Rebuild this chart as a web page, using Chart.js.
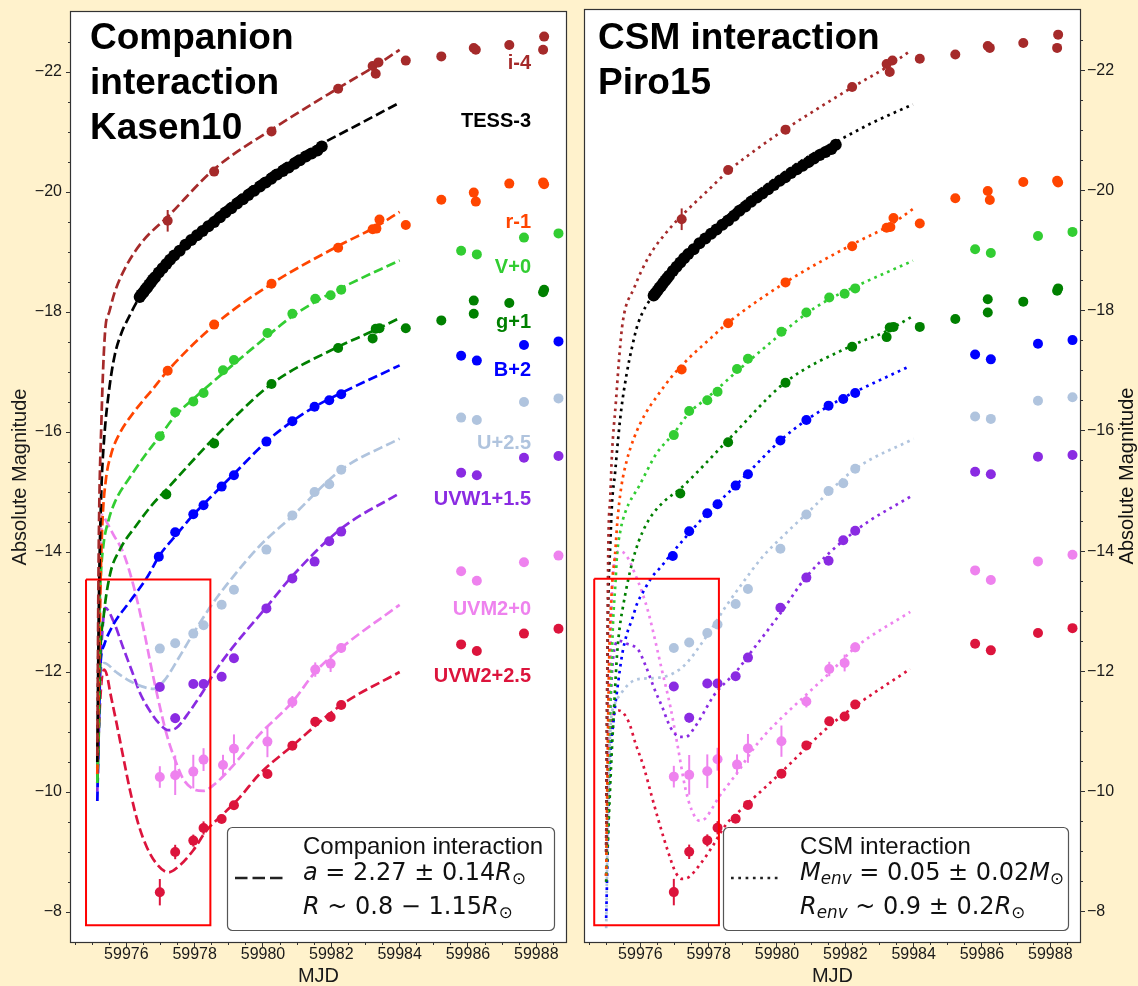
<!DOCTYPE html>
<html>
<head>
<meta charset="utf-8">
<script src="https://cdn.jsdelivr.net/npm/chart.js@4.4.1/dist/chart.umd.min.js"></script>
<style>
  html, body { margin: 0; padding: 0; background: #FFF2CC; }
  #wrap { position: relative; width: 1138px; height: 986px; overflow: hidden; }
  #cl { position: absolute; left: 0; top: 0; }
  #cr { position: absolute; left: 575px; top: 0; }
</style>
</head>
<body>
<div id="wrap">
  <canvas id="cl" width="576" height="986"></canvas>
  <canvas id="cr" width="563" height="986"></canvas>
</div>
<script>
const FONT = "'Liberation Sans', Arial, Helvetica, sans-serif";
const MATH = "'DejaVu Sans', sans-serif";

// ---------- axes ----------
const mjdRange = [59974.38, 59988.87];
const magRange = [-23.0, -7.5];
const xMajorTicks = [59976, 59978, 59980, 59982, 59984, 59986, 59988];
const yMajorTicks = [-22, -20, -18, -16, -14, -12, -10, -8];

// ---------- photometry: [MJD, absolute magnitude incl. offset] ----------
const tessPts = [
  [59976.39,-18.25],[59976.44,-18.29],[59976.50,-18.33],[59976.56,-18.38],[59976.61,-18.41],
  [59976.67,-18.46],[59976.73,-18.50],[59976.78,-18.54],[59976.84,-18.58],[59976.95,-18.66],
  [59977.06,-18.73],[59977.17,-18.80],[59977.28,-18.87],[59977.40,-18.94],[59977.56,-19.02],
  [59977.73,-19.12],[59977.90,-19.20],[59978.07,-19.28],[59978.23,-19.35],[59978.40,-19.43],
  [59978.57,-19.50],[59978.74,-19.58],[59978.90,-19.66],[59979.07,-19.73],[59979.24,-19.81],
  [59979.41,-19.88],[59979.57,-19.95],[59979.74,-20.02],[59979.91,-20.09],[59980.08,-20.16],
  [59980.24,-20.22],[59980.41,-20.29],[59980.58,-20.35],[59980.75,-20.41],[59980.92,-20.47],
  [59981.08,-20.53],[59981.25,-20.59],[59981.42,-20.64],[59981.59,-20.69],[59981.72,-20.76]
];
const iPts = [
  [59977.21,-19.52],[59978.57,-20.34],[59980.25,-21.01],[59982.20,-21.72],[59983.21,-22.10],
  [59983.38,-22.16],[59983.30,-21.97],[59984.18,-22.19],[59985.22,-22.26],[59986.17,-22.40],
  [59986.23,-22.37],[59987.21,-22.45],[59988.23,-22.59],[59988.20,-22.37]
];
const iErr = [0.18,0,0,0,0,0,0,0,0,0,0,0,0,0];
const rPts = [
  [59977.21,-17.02],[59978.57,-17.79],[59980.25,-18.47],[59982.20,-19.07],[59983.21,-19.38],
  [59983.32,-19.39],[59983.41,-19.54],[59984.18,-19.45],[59985.22,-19.87],[59986.17,-19.99],
  [59986.23,-19.84],[59987.21,-20.14],[59988.23,-20.13],[59988.20,-20.16]
];
const rErr = [0.06,0,0,0,0,0,0,0,0,0,0,0,0,0];
const vPts = [
  [59976.98,-15.93],[59977.43,-16.33],[59977.96,-16.51],[59978.26,-16.65],[59978.83,-17.03],
  [59979.15,-17.20],[59980.13,-17.65],[59980.86,-17.97],[59981.53,-18.22],[59981.98,-18.28],
  [59982.29,-18.37],[59985.80,-19.02],[59986.26,-18.96],[59987.64,-19.24],[59988.65,-19.31]
];
const gPts = [
  [59977.17,-14.96],[59978.57,-15.81],[59980.25,-16.80],[59982.20,-17.40],[59983.21,-17.56],
  [59983.30,-17.72],[59983.41,-17.73],[59984.18,-17.73],[59985.22,-17.86],[59986.17,-17.97],
  [59986.17,-18.19],[59987.21,-18.15],[59988.23,-18.37],[59988.20,-18.33]
];
const bPts = [
  [59976.95,-13.92],[59977.43,-14.33],[59977.96,-14.63],[59978.26,-14.78],[59978.79,-15.09],
  [59979.15,-15.28],[59980.10,-15.84],[59980.86,-16.18],[59981.51,-16.42],[59981.94,-16.53],
  [59982.29,-16.63],[59985.80,-17.27],[59986.26,-17.19],[59987.64,-17.45],[59988.65,-17.51]
];
const uPts = [
  [59976.98,-12.39],[59977.43,-12.48],[59977.96,-12.64],[59978.26,-12.78],[59978.79,-13.12],
  [59979.15,-13.37],[59980.10,-14.04],[59980.86,-14.61],[59981.51,-15.00],[59981.94,-15.13],
  [59982.29,-15.37],[59985.80,-16.24],[59986.26,-16.20],[59987.64,-16.50],[59988.65,-16.56]
];
const uvw1Pts = [
  [59976.98,-11.75],[59977.43,-11.23],[59977.96,-11.80],[59978.26,-11.80],[59978.79,-11.92],
  [59979.15,-12.23],[59980.10,-13.06],[59980.86,-13.56],[59981.51,-13.84],[59981.94,-14.18],
  [59982.29,-14.34],[59985.80,-15.32],[59986.26,-15.28],[59987.64,-15.57],[59988.65,-15.60]
];
const uvw1Err = [0.05,0.08,0,0,0,0,0,0,0,0,0,0,0,0,0];
const uvm2Pts = [
  [59976.98,-10.25],[59977.43,-10.28],[59977.96,-10.34],[59978.26,-10.54],[59978.83,-10.45],
  [59979.15,-10.72],[59980.13,-10.84],[59980.86,-11.50],[59981.53,-12.04],[59981.98,-12.14],
  [59982.29,-12.40],[59985.80,-13.68],[59986.26,-13.52],[59987.64,-13.83],[59988.65,-13.94]
];
const uvm2Err = [0.18,0.33,0.28,0.19,0.17,0.24,0.26,0.10,0.12,0.14,0.08,0,0,0,0];
const uvw2Pts = [
  [59976.98,-8.33],[59977.43,-9.00],[59977.96,-9.19],[59978.26,-9.40],[59978.79,-9.55],
  [59979.15,-9.78],[59980.13,-10.30],[59980.86,-10.77],[59981.53,-11.17],[59981.98,-11.25],
  [59982.29,-11.45],[59985.80,-12.46],[59986.26,-12.35],[59987.64,-12.64],[59988.65,-12.72]
];
const uvw2Err = [0.22,0.12,0.10,0.11,0.07,0.06,0.04,0.04,0.04,0.04,0.04,0,0,0,0];

// ---------- companion-interaction model curves ----------
const kasenI = [[59975.15,-10.6],[59975.19,-13.96],[59975.27,-16.17],[59975.38,-17.69],[59975.50,-18.00],[59975.66,-18.33],[59976.00,-18.77],[59976.45,-19.16],[59977.23,-19.60],[59978.57,-20.38],[59980.25,-21.04],[59982.20,-21.73],[59983.20,-22.07],[59984.00,-22.37]];
const kasenTess = [[59975.15,-10.5],[59975.19,-12.85],[59975.22,-13.96],[59975.27,-15.06],[59975.35,-15.89],[59975.50,-16.72],[59975.66,-17.28],[59975.87,-17.67],[59976.00,-17.83],[59976.39,-18.25],[59977.00,-18.72],[59978.01,-19.30],[59979.02,-19.80],[59980.13,-20.27],[59981.03,-20.60],[59981.70,-20.80],[59982.81,-21.13],[59984.00,-21.49]];
const kasenR = [[59975.15,-10.3],[59975.21,-12.3],[59975.25,-13.6],[59975.30,-14.5],[59975.40,-15.2],[59975.55,-15.62],[59975.78,-15.95],[59976.22,-16.33],[59976.78,-16.72],[59977.21,-17.02],[59978.57,-17.78],[59980.25,-18.47],[59982.20,-19.10],[59983.30,-19.42],[59984.00,-19.67]];
const kasenV = [[59975.15,-10.15],[59975.19,-11.5],[59975.21,-12.85],[59975.25,-13.57],[59975.33,-14.12],[59975.47,-14.51],[59975.67,-14.84],[59976.11,-15.25],[59976.56,-15.62],[59976.98,-15.93],[59977.43,-16.27],[59977.96,-16.55],[59978.83,-16.98],[59980.13,-17.60],[59980.86,-17.93],[59981.53,-18.17],[59982.29,-18.40],[59984.00,-18.86]];
const kasenG = [[59975.15,-10.15],[59975.20,-11.15],[59975.23,-12.15],[59975.33,-12.90],[59975.52,-13.62],[59975.82,-14.05],[59976.30,-14.45],[59976.79,-14.81],[59977.17,-15.04],[59978.57,-15.90],[59980.25,-16.80],[59982.20,-17.42],[59983.21,-17.68],[59984.00,-17.90]];
const kasenB = [[59975.15,-9.85],[59975.20,-11.19],[59975.23,-12.0],[59975.35,-12.45],[59975.62,-12.79],[59976.11,-13.18],[59976.60,-13.57],[59976.98,-13.95],[59977.47,-14.29],[59977.96,-14.62],[59978.25,-14.79],[59979.15,-15.30],[59980.10,-15.84],[59980.86,-16.18],[59981.51,-16.42],[59982.29,-16.65],[59984.00,-17.11]];
const kasenU = [[59975.15,-9.85],[59975.20,-11.2],[59975.25,-12.0],[59975.35,-12.15],[59975.70,-12.0],[59976.10,-11.85],[59976.45,-11.76],[59976.80,-11.72],[59977.10,-11.85],[59977.55,-12.25],[59978.00,-12.68],[59978.50,-13.12],[59979.10,-13.57],[59979.90,-14.10],[59980.86,-14.60],[59982.29,-15.37],[59984.00,-15.89]];
const kasenUVW1 = [[59975.15,-10.0],[59975.20,-11.52],[59975.28,-12.52],[59975.38,-13.07],[59975.62,-12.85],[59975.91,-12.40],[59976.16,-12.02],[59976.40,-11.65],[59976.69,-11.35],[59976.98,-11.13],[59977.23,-11.03],[59977.47,-11.07],[59977.86,-11.35],[59978.25,-11.68],[59978.54,-11.96],[59979.03,-12.35],[59980.10,-13.08],[59980.86,-13.60],[59982.29,-14.39],[59984.00,-14.98]];
const kasenUVM2 = [[59975.15,-10.1],[59975.22,-12.82],[59975.25,-13.99],[59975.30,-14.62],[59975.36,-14.57],[59975.47,-14.45],[59975.62,-14.29],[59975.91,-13.99],[59976.20,-13.46],[59976.50,-12.73],[59976.74,-12.05],[59976.93,-11.55],[59977.18,-10.96],[59977.47,-10.47],[59977.66,-10.22],[59977.96,-10.05],[59978.25,-10.02],[59978.54,-10.11],[59979.03,-10.38],[59979.90,-10.96],[59980.86,-11.50],[59981.53,-12.00],[59982.29,-12.40],[59984.00,-13.12]];
const kasenUVW2 = [[59975.15,-10.4],[59975.23,-11.48],[59975.29,-11.93],[59975.35,-12.04],[59975.44,-11.93],[59975.52,-11.68],[59975.72,-11.13],[59975.91,-10.58],[59976.11,-10.02],[59976.35,-9.47],[59976.60,-9.08],[59976.89,-8.80],[59977.23,-8.66],[59977.57,-8.78],[59977.96,-9.03],[59978.35,-9.36],[59978.83,-9.63],[59979.32,-9.91],[59979.90,-10.30],[59980.86,-10.77],[59982.29,-11.45],[59984.00,-12.00]];

// ---------- CSM-interaction model curves ----------
const csmI = [[59975.00,-9.0],[59975.06,-13.96],[59975.12,-14.9],[59975.17,-15.62],[59975.28,-16.45],[59975.39,-17.28],[59975.49,-17.83],[59975.82,-18.38],[59976.25,-18.90],[59976.79,-19.32],[59977.21,-19.58],[59977.98,-20.00],[59978.57,-20.32],[59979.49,-20.72],[59980.25,-21.02],[59981.22,-21.37],[59982.25,-21.73],[59983.27,-22.07],[59983.90,-22.32]];
const csmTess = [[59975.00,-9.0],[59975.03,-11.6],[59975.06,-13.12],[59975.12,-14.1],[59975.17,-14.79],[59975.26,-15.30],[59975.33,-15.75],[59975.44,-16.35],[59975.60,-16.95],[59975.76,-17.40],[59975.93,-17.78],[59976.36,-18.25],[59977.00,-18.72],[59978.01,-19.30],[59979.02,-19.80],[59980.13,-20.27],[59981.03,-20.60],[59981.70,-20.80],[59982.81,-21.13],[59983.98,-21.43]];
const csmR = [[59975.00,-8.6],[59975.08,-12.0],[59975.17,-13.40],[59975.26,-13.95],[59975.33,-14.51],[59975.44,-15.06],[59975.60,-15.50],[59975.82,-15.89],[59976.14,-16.28],[59976.47,-16.56],[59976.90,-16.89],[59977.44,-17.22],[59977.98,-17.50],[59978.57,-17.80],[59980.25,-18.47],[59982.20,-19.10],[59983.30,-19.42],[59983.98,-19.69]];
const csmV = [[59975.00,-8.6],[59975.10,-11.0],[59975.20,-12.8],[59975.27,-13.46],[59975.32,-13.95],[59975.42,-14.35],[59975.56,-14.65],[59975.98,-15.10],[59976.47,-15.62],[59976.98,-15.96],[59977.43,-16.30],[59977.96,-16.55],[59978.83,-16.99],[59980.13,-17.62],[59980.86,-17.95],[59981.53,-18.19],[59982.29,-18.40],[59983.98,-18.83]];
const csmG = [[59975.00,-8.5],[59975.15,-10.5],[59975.25,-11.6],[59975.32,-12.3],[59975.40,-12.75],[59975.50,-13.1],[59975.62,-13.46],[59975.78,-13.85],[59975.95,-14.16],[59976.15,-14.42],[59976.34,-14.60],[59976.68,-14.82],[59977.17,-15.04],[59978.57,-15.85],[59980.25,-16.81],[59982.20,-17.42],[59983.21,-17.66],[59983.95,-17.90]];
const csmB = [[59975.00,-7.9],[59975.10,-10.3],[59975.22,-11.2],[59975.32,-11.68],[59975.47,-12.29],[59975.61,-12.63],[59975.76,-12.87],[59975.90,-13.12],[59976.10,-13.34],[59976.34,-13.57],[59976.59,-13.73],[59976.83,-13.90],[59977.43,-14.30],[59977.96,-14.63],[59978.79,-15.09],[59979.15,-15.30],[59980.10,-15.84],[59980.86,-16.18],[59981.94,-16.55],[59982.29,-16.65],[59983.90,-17.08]];
const csmU = [[59975.00,-7.73],[59975.05,-9.6],[59975.12,-11.0],[59975.25,-11.45],[59975.42,-11.62],[59975.66,-11.79],[59975.86,-11.86],[59976.10,-11.88],[59976.45,-11.89],[59976.80,-11.93],[59977.12,-12.02],[59977.42,-12.18],[59977.71,-12.40],[59978.10,-12.72],[59978.49,-13.07],[59978.98,-13.46],[59979.57,-13.90],[59980.12,-14.22],[59980.84,-14.61],[59982.30,-15.37],[59984.00,-15.87]];
const csmUVW1 = [[59975.00,-8.6],[59975.10,-11.0],[59975.20,-12.2],[59975.37,-12.51],[59975.61,-12.46],[59975.95,-12.35],[59976.15,-12.10],[59976.44,-11.67],[59976.64,-11.41],[59976.88,-11.07],[59977.17,-10.91],[59977.32,-10.91],[59977.66,-11.13],[59978.00,-11.46],[59978.15,-11.60],[59978.84,-12.02],[59979.17,-12.27],[59980.12,-12.98],[59980.84,-13.56],[59982.30,-14.34],[59984.00,-14.94]];
const csmUVM2 = [[59975.00,-8.5],[59975.08,-11.0],[59975.15,-13.0],[59975.25,-13.85],[59975.40,-14.0],[59975.60,-13.92],[59975.86,-13.60],[59976.05,-13.32],[59976.25,-12.95],[59976.44,-12.50],[59976.64,-12.0],[59976.88,-11.41],[59977.08,-10.80],[59977.32,-10.05],[59977.50,-9.70],[59977.71,-9.52],[59977.91,-9.56],[59978.10,-9.72],[59978.30,-9.91],[59978.59,-10.13],[59978.88,-10.35],[59979.28,-10.69],[59979.67,-10.96],[59980.12,-11.22],[59981.55,-11.98],[59982.30,-12.40],[59983.90,-12.99]];
const csmUVW2 = [[59975.00,-8.6],[59975.06,-9.85],[59975.12,-10.85],[59975.21,-11.27],[59975.37,-11.35],[59975.66,-11.16],[59975.86,-10.80],[59976.10,-10.41],[59976.34,-9.91],[59976.59,-9.41],[59976.83,-8.97],[59977.03,-8.66],[59977.22,-8.55],[59977.42,-8.58],[59977.76,-8.80],[59978.10,-9.08],[59978.49,-9.44],[59979.00,-9.73],[59979.67,-10.08],[59980.12,-10.32],[59981.55,-11.10],[59982.30,-11.43],[59983.90,-12.04]];

// ---------- early-phase highlight boxes: [MJD from, MJD to], [mag from, mag to] ----------
const boxKasenMJD = [59974.82, 59978.46];
const boxCsmMJD = [59974.65, 59978.30];
const boxMag = [-13.54, -7.78];

// ---------- band names and where their labels sit (magnitude) ----------
const bandNames = ['i-4', 'TESS-3', 'r-1', 'V+0', 'g+1', 'B+2', 'U+2.5', 'UVW1+1.5', 'UVM2+0', 'UVW2+2.5'];
const bandLabelMag = [-22.15, -21.17, -19.49, -18.75, -17.83, -17.02, -15.81, -14.87, -13.04, -11.92];
const bandColors = ['#A52A2A', '#000000', '#FF4500', '#32CD32', '#008000', '#0000FF', '#B0C4DE', '#8A2BE2', '#EE82EE', '#DC143C'];

const bandPts = [iPts, tessPts, rPts, vPts, gPts, bPts, uPts, uvw1Pts, uvm2Pts, uvw2Pts];
const bandErr = [iErr, null, rErr, null, null, null, null, uvw1Err, uvm2Err, uvw2Err];
const kasenModels = [kasenI, kasenTess, kasenR, kasenV, kasenG, kasenB, kasenU, kasenUVW1, kasenUVM2, kasenUVW2];
const csmModels = [csmI, csmTess, csmR, csmV, csmG, csmB, csmU, csmUVW1, csmUVM2, csmUVW2];

const toXY = arr => arr.map(p => ({ x: p[0], y: p[1] }));

function boxData(mjd, mag) {
  return [
    { x: mjd[0], y: mag[0] }, { x: mjd[1], y: mag[0] },
    { x: mjd[1], y: mag[1] }, { x: mjd[0], y: mag[1] }, { x: mjd[0], y: mag[0] }
  ];
}

function buildDatasets(models, dash, boxMJD) {
  const ds = [{
    label: 'early phase', data: boxData(boxMJD, boxMag), showLine: true,
    borderColor: '#FF0000', borderWidth: 2, pointRadius: 0, tension: 0,
    borderJoinStyle: 'miter', order: 0
  }];
  bandNames.forEach((name, k) => {
    const dense = bandPts[k] === tessPts;
    ds.push({
      label: name, data: toXY(bandPts[k]), errors: bandErr[k],
      backgroundColor: bandColors[k], borderWidth: 0,
      pointRadius: dense ? 6 : 5, pointHoverRadius: dense ? 6 : 5, showLine: false, order: 1
    });
    ds.push({
      label: name + ' model', data: toXY(models[k]), showLine: true,
      borderColor: bandColors[k], borderWidth: 2.7, borderDash: dash,
      pointRadius: 0, cubicInterpolationMode: 'monotone', order: 2
    });
  });
  return ds;
}

// minor ticks every half unit, majors labelled
const xTickVals = [];
for (let v = 59974.5; v <= 59988.8; v += 0.5) xTickVals.push(v);
const yTickVals = [];
for (let v = -22.5; v <= -8.0; v += 0.5) yTickVals.push(v);

const isMajorX = v => xMajorTicks.includes(v);
const isMajorY = v => yMajorTicks.includes(v);

function drawRuns(ctx, x, y, runs, size) {
  let cx = x;
  runs.forEach(r => {
    const s = r.sub ? size * 0.7 : size;
    ctx.font = (r.it ? 'italic ' : '') + s + 'px ' + MATH;
    ctx.fillText(r.t, cx, y + (r.sub ? size * 0.25 : 0));
    cx += ctx.measureText(r.t).width;
  });
}

function makeDecor(cfg) {
  return {
    id: 'decor',
    beforeDraw(chart) {
      const { ctx, chartArea: a } = chart;
      ctx.save();
      ctx.fillStyle = '#ffffff';
      ctx.fillRect(a.left, a.top, a.right - a.left, a.bottom - a.top);
      ctx.restore();
    },
    beforeDatasetsDraw(chart) {
      const { ctx } = chart;
      const xs = chart.scales.x, ys = chart.scales.y;
      ctx.save();
      chart.data.datasets.forEach(d => {
        if (!d.errors) return;
        ctx.strokeStyle = d.backgroundColor;
        ctx.lineWidth = 2;
        d.data.forEach((p, i) => {
          const e = d.errors[i];
          if (!e) return;
          const px = xs.getPixelForValue(p.x);
          ctx.beginPath();
          ctx.moveTo(px, ys.getPixelForValue(p.y - e));
          ctx.lineTo(px, ys.getPixelForValue(p.y + e));
          ctx.stroke();
        });
      });
      ctx.restore();
    },
    afterDraw(chart) {
      const { ctx, chartArea: a } = chart;
      const ys = chart.scales.y;
      ctx.save();
      // axes frame
      ctx.strokeStyle = '#333';
      ctx.lineWidth = 1.2;
      ctx.strokeRect(Math.round(a.left) - 0.5, Math.round(a.top) - 0.5,
        Math.round(a.right - a.left) + 1, Math.round(a.bottom - a.top) + 1);

      // panel title
      ctx.fillStyle = '#000';
      ctx.font = 'bold 37px ' + FONT;
      ctx.textAlign = 'left';
      ctx.textBaseline = 'alphabetic';
      cfg.title.forEach((line, k) => ctx.fillText(line, a.left + cfg.titleDx, 48.5 + 45 * k));

      // band labels
      if (cfg.bandLabels) {
        ctx.font = 'bold 20px ' + FONT;
        ctx.textAlign = 'right';
        ctx.textBaseline = 'middle';
        bandNames.forEach((name, k) => {
          ctx.fillStyle = bandColors[k];
          ctx.fillText(name, a.right - 35, ys.getPixelForValue(bandLabelMag[k]));
        });
      }

      // legend box
      const L = cfg.legend;
      const x1 = a.right - 12, y1 = a.bottom - 12;
      const x0 = x1 - L.width, y0 = y1 - 103;
      ctx.beginPath();
      ctx.roundRect(x0 + 0.5, y0 + 0.5, L.width, 103, 5);
      ctx.fillStyle = '#ffffff';
      ctx.fill();
      ctx.strokeStyle = '#555';
      ctx.lineWidth = 1.2;
      ctx.stroke();
      ctx.strokeStyle = '#222';
      ctx.lineWidth = 2.7;
      ctx.setLineDash(L.dash);
      ctx.beginPath();
      ctx.moveTo(x0 + 8, y0 + 51);
      ctx.lineTo(x0 + L.sampleLen + 8, y0 + 51);
      ctx.stroke();
      ctx.setLineDash([]);
      ctx.fillStyle = '#111';
      ctx.textAlign = 'left';
      ctx.textBaseline = 'middle';
      ctx.font = '24px ' + FONT;
      ctx.fillText(L.head, x0 + L.textDx, y0 + 20);
      drawRuns(ctx, x0 + L.textDx, y0 + 47, L.line1, 24);
      drawRuns(ctx, x0 + L.textDx, y0 + 81, L.line2, 24);

      // y title on the right-hand axis
      if (cfg.rightTitle) {
        ctx.translate(a.right + 47, (a.top + a.bottom) / 2);
        ctx.rotate(-Math.PI / 2);
        ctx.fillStyle = '#111';
        ctx.font = '20px ' + FONT;
        ctx.textAlign = 'center';
        ctx.textBaseline = 'middle';
        ctx.fillText('Absolute Magnitude', 0, 0);
      }
      ctx.restore();
    }
  };
}

function makePanel(canvasId, side, models, dash, boxMJD, cfg) {
  const tickFont = { family: FONT, size: 16, lineHeight: 1 };
  const yDash = side === 'left'
    ? (c => (c.tick && isMajorY(c.tick.value)) ? [] : [3, 2])
    : (c => (c.tick && isMajorY(c.tick.value)) ? [] : [3, 10]);
  const yDashOff = side === 'left'
    ? (c => (c.tick && isMajorY(c.tick.value)) ? 0 : 3)
    : 0;
  return new Chart(document.getElementById(canvasId), {
    type: 'scatter',
    data: { datasets: buildDatasets(models, dash, boxMJD) },
    options: {
      responsive: false,
      animation: false,
      devicePixelRatio: 1,
      events: [],
      layout: {
        autoPadding: false,
        padding: side === 'left' ? { left: 0, right: 10, top: 8, bottom: 0 } : { left: 10, right: 0, top: 8, bottom: 0 }
      },
      plugins: { legend: { display: false }, tooltip: { enabled: false } },
      scales: {
        x: {
          type: 'linear', position: 'bottom',
          min: mjdRange[0], max: mjdRange[1],
          afterFit: s => { s.height = 44; },
          afterBuildTicks: s => { s.ticks = xTickVals.map(v => ({ value: v })); },
          ticks: {
            autoSkip: false, maxRotation: 0, minRotation: 0, padding: 0,
            color: '#1a1a1a', font: tickFont,
            callback: v => isMajorX(v) ? String(v) : ''
          },
          grid: {
            drawOnChartArea: false, drawTicks: true, tickLength: 5,
            tickColor: '#333', tickWidth: 1,
            tickBorderDash: c => (c.tick && isMajorX(c.tick.value)) ? [] : [3, 10],
            tickBorderDashOffset: 0
          },
          border: { display: false },
          title: {
            display: true, text: 'MJD', color: '#1a1a1a',
            font: { family: FONT, size: 20, lineHeight: 1 }, padding: { top: 0, bottom: 0 }
          }
        },
        y: {
          type: 'linear', position: side, reverse: true,
          min: magRange[0], max: magRange[1],
          afterFit: s => { s.width = side === 'left' ? 71 : 58; },
          afterBuildTicks: s => { s.ticks = yTickVals.map(v => ({ value: v })); },
          ticks: {
            autoSkip: false, padding: side === 'left' ? 4 : 2,
            color: '#1a1a1a', font: tickFont,
            callback: v => isMajorY(v) ? '\u2212' + Math.abs(v) : ''
          },
          grid: {
            drawOnChartArea: false, drawTicks: true, tickLength: 5,
            tickColor: '#333', tickWidth: 1,
            tickBorderDash: yDash, tickBorderDashOffset: yDashOff
          },
          border: { display: false },
          title: {
            display: side === 'left', text: 'Absolute Magnitude', color: '#1a1a1a',
            font: { family: FONT, size: 20, lineHeight: 1 }, padding: { top: 10, bottom: 0 }
          }
        }
      }
    },
    plugins: [makeDecor(cfg)]
  });
}

const sunSub = { t: '\u2299', sub: true };

makePanel('cl', 'left', kasenModels, [9.6, 4.2], boxKasenMJD, {
  title: ['Companion', 'interaction', 'Kasen10'],
  titleDx: 19,
  bandLabels: true,
  rightTitle: false,
  legend: {
    width: 327, dash: [12.5, 5], sampleLen: 48, textDx: 76,
    head: 'Companion interaction',
    line1: [{ t: 'a', it: true }, { t: ' = 2.27 \u00b1 0.14' }, { t: 'R', it: true }, sunSub],
    line2: [{ t: 'R', it: true }, { t: ' ~ 0.8 \u2212 1.15' }, { t: 'R', it: true }, sunSub]
  }
});

makePanel('cr', 'right', csmModels, [2.7, 4.3], boxCsmMJD, {
  title: ['CSM interaction', 'Piro15'],
  titleDx: 13,
  bandLabels: false,
  rightTitle: true,
  legend: {
    width: 345, dash: [2.7, 4.6], sampleLen: 50, textDx: 77,
    head: 'CSM interaction',
    line1: [{ t: 'M', it: true }, { t: 'env', it: true, sub: true }, { t: ' = 0.05 \u00b1 0.02' }, { t: 'M', it: true }, sunSub],
    line2: [{ t: 'R', it: true }, { t: 'env', it: true, sub: true }, { t: ' ~ 0.9 \u00b1 0.2' }, { t: 'R', it: true }, sunSub]
  }
});
</script>
</body>
</html>
